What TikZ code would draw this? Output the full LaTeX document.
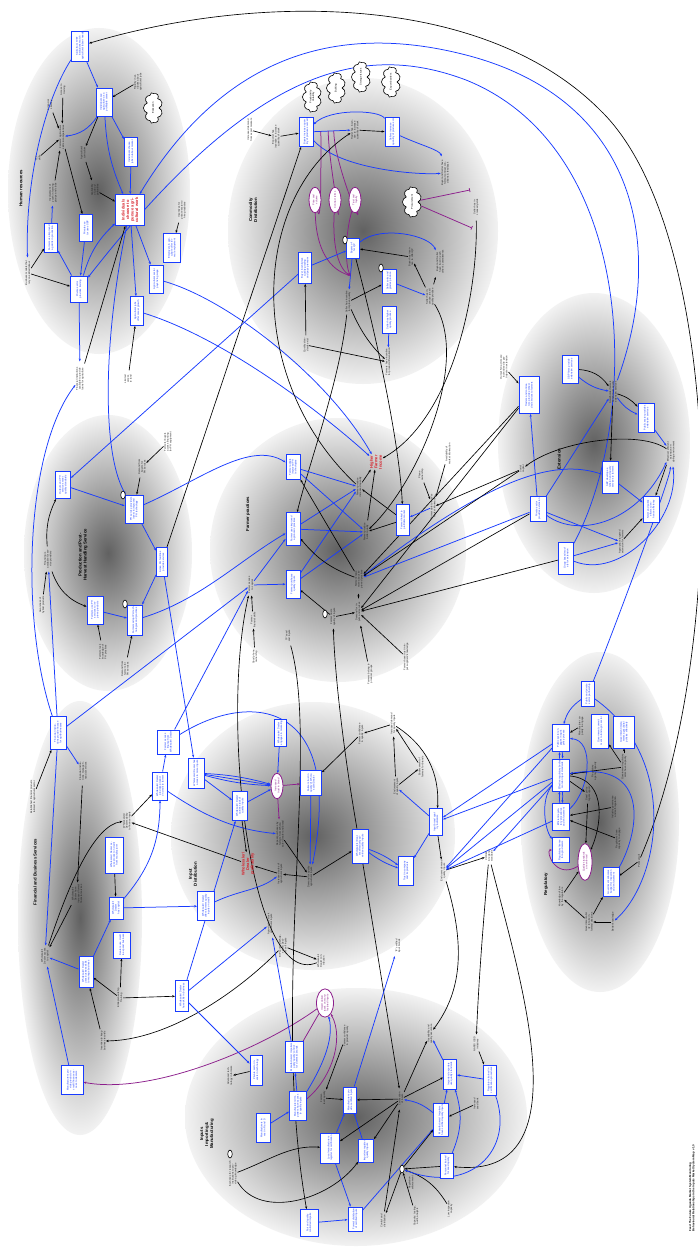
\documentclass[tikz,border=0pt]{standalone}
\usepackage{fontspec}
\setmainfont{Liberation Sans}
\usetikzlibrary{arrows.meta,shapes.geometric,shapes.symbols}
\definecolor{bblue}{RGB}{25,60,255}
\definecolor{bred}{RGB}{215,30,40}
\definecolor{ppurple}{RGB}{140,30,140}
\newcommand\tfnt{\fontsize{2.5}{2.8}\selectfont}
\newcommand\redfnt{\fontsize{4}{4.5}\selectfont\bfseries}
\newcommand\ttlfnt{\fontsize{4.3}{5}\selectfont\bfseries}
\pgfdeclarelayer{shd}\pgfdeclarelayer{edg}\pgfsetlayers{shd,edg,main}
\begin{document}
\begin{tikzpicture}[x=1pt,y=-1pt,>={Stealth[length=2.8pt,width=2.2pt]},
 bx/.style 2 args={draw=bblue,line width=0.95pt,fill=white,text=bblue,rotate=90,align=center,font=\tfnt,text width=#1pt,minimum height=#2pt,inner xsep=1pt,inner ysep=0.6pt},
 tx/.style={rotate=90,align=center,font=\tfnt,text=black!85,inner sep=0.4pt,text width=#1pt},
 tx/.default=24,
 rtx/.style={rotate=90,align=center,font=\redfnt,text=bred,inner sep=0.5pt},
 ttl/.style={rotate=90,align=center,font=\ttlfnt},
 cl/.style={cloud,cloud puffs=9,aspect=2.4,draw,line width=0.6pt,fill=white,rotate=90,font=\tfnt,inner sep=0.3pt,minimum width=27pt,minimum height=11pt,text width=20pt,align=center},
 pov/.style={ellipse,draw=ppurple,line width=0.8pt,fill=white,text=ppurple,rotate=90,font=\tfnt,inner sep=0pt,minimum width=25pt,minimum height=12pt,text width=18pt,align=center},
 sov/.style={ellipse,draw,line width=0.6pt,fill=white,rotate=90,minimum width=8pt,minimum height=4.5pt,inner sep=0pt},
 bl/.style={draw=bblue,line width=0.75pt,->},
 bk/.style={draw=black,line width=0.65pt,->},
 pu/.style={draw=ppurple,line width=0.75pt,->},
 sh/.style={inner color=black!62,outer color=black!5}]
\useasboundingbox (0,0) rectangle (698,1247);
\begin{pgfonlayer}{shd}
\fill[white] (0,0) rectangle (698,1247);
\shade[sh] (99,191) ellipse [x radius=91pt,y radius=163pt];
\shade[sh] (363,231) ellipse [x radius=135pt,y radius=153pt];
\shade[sh] (108,553) ellipse [x radius=84pt,y radius=138pt];
\shade[sh] (338,550) ellipse [x radius=128pt,y radius=132pt];
\shade[sh] (594,443) ellipse [x radius=96pt,y radius=150pt];
\shade[sh] (80,918) ellipse [x radius=62pt,y radius=217pt];
\shade[sh] (313,836) ellipse [x radius=142pt,y radius=134pt];
\shade[sh] (600,822) ellipse [x radius=79pt,y radius=170pt];
\shade[sh] (356,1117) ellipse [x radius=171pt,y radius=129pt];
\end{pgfonlayer}

% ---------------- Human resources
\node[ttl] at (21,188) {Human resources};
\node[bx={28}{17}] (hrA) at (80,46) {Skills from TVET institutions match agricultural labour needs};
\node[bx={26}{16}] (hrB) at (104,102) {Individuals see agriculture as a profitable career};
\node[bx={27}{13}] (hrC) at (131,152) {Individuals choose jobs in labour market};
\node[bx={29}{29},text=bred,font=\redfnt] (hrRed) at (130,210) {Individuals choose to pursue agricultural work};
\node[bx={25}{13}] (hrD) at (86,228) {Private sector uses SBP};
\node[bx={27}{13}] (hrE) at (51,238) {Farmers use improved ag skills in production};
\node[bx={24}{17}] (hrF) at (79,289) {Private sector provides training};
\node[bx={26}{14}] (hrG) at (156,279) {Agricultural sector pays living wage};
\node[bx={27}{17}] (hrH) at (172,248) {Employers in agriculture offer formal employment};
\node[bx={27}{13}] (hrI) at (137,311) {Agricultural jobs offer career growth};
\node[tx=22] (hrT1) at (138,82) {Rigidity in attitudes about agricultural jobs};
\node[cl] (hrCl) at (153,108) {Education};
\node[tx=14] (hrT2) at (50,105) {Financial Literacy};
\node[tx=14] (hrT3) at (63,90) {Access to training};
\node[tx=26] (hrT4) at (62,137) {Farmers' agricultural skills \& competencies};
\node[tx=8] (hrT5) at (38,158) {ICT skills};
\node[tx=24] (hrT6) at (53,193) {Involvement of youth in farming groups and clubs};
\node[tx=20] (hrT7) at (83,153) {Agricultural curriculum};
\node[tx=18] (hrT8) at (95,190) {Availability of job opportunities};
\node[tx=24] (hrT9) at (182,210) {Incentives for private sector to hire graduates};
\node[tx=30] (hrT10) at (28,273) {Business models that rely on skilled labour};
\node[tx=34] (hrT11) at (80,379) {Financial institutions available to provide loans for agriculture};
\node[tx=16] (hrT12) at (128,379) {Limited access to land};

% ---------------- Production
\node[ttl] at (83,555) {Production and Post-\\Harvest Handling Service};
\node[bx={25}{15}] (pA) at (63,485) {Outputs and PH services meet quality standards};
\node[bx={26}{18}] (pB) at (134,509) {PH service providers invest in improved PH technology};
\node[bx={27}{11}] (pC) at (162,562) {Active PH facilities provide services};
\node[bx={26}{16}] (pD) at (95,610) {Farmers use PH services to improve products};
\node[bx={28}{15}] (pE) at (135,620) {Farmers adopt PH technologies and practices};
\node[sov] at (123,495) {};
\node[sov] at (125,604) {};
\node[tx=26] (pT1) at (168,442) {Farmers/ buyers access financing for PH equipment};
\node[tx=20] (pT2) at (142,467) {Demand from buyers for PH services};
\node[tx=24] (pT3) at (48,559) {Financing is available for service providers};
\node[tx=20] (pT4) at (42,605) {Awareness of hybrid products};
\node[tx=22] (pT5) at (103,652) {Farmers lack knowledge of PH practices};
\node[tx=22] (pT6) at (125,669) {Demand from farmers for PH services};

% ---------------- Financial and business
\node[ttl] at (35,872) {Financial and Business Services};
\node[bx={31}{16}] (fA) at (58,733) {Financial institutions provide finance for agribusinesses};
\node[bx={22}{22}] (fB) at (168,742) {Farmer access finance from Wholesaler/ Dealer};
\node[bx={26}{15}] (fC) at (160,786) {Wholesaler/ Dealer provides product on credit to farmer};
\node[bx={34}{18}] (fD) at (114,855) {Wholesaler/ Dealer access product on credit from manufacturer};
\node[bx={20}{14}] (fE) at (116,908) {Wholesaler/ Dealer has capital};
\node[bx={24}{17}] (fF) at (122,945) {Dealers use credit to expand business};
\node[bx={29}{14}] (fG) at (86,972) {Wholesaler/ Dealer uses business skills to manage business};
\node[bx={29}{13}] (fH) at (182,996) {Wholesaler/ Dealer have skills in business};
\node[bx={27}{22}] (fI) at (72,1080) {Manufacturers provide product on credit/ finance access to dealers};
\node[tx=36] (fT1) at (33,797) {Established financial products tailored to agricultural sector};
\node[tx=28] (fT2) at (83,771) {Financial institutions manage financial services};
\node[tx=22] (fT3) at (127,821) {Wholesalers/ Dealers ability to finance inputs};
\node[tx=22] (fT4) at (77,894) {Wholesaler/ Dealer have increased formal financial services};
\node[tx=20] (fT5) at (45,956) {Wholesaler/ Dealer access to capital};
\node[tx=20] (fT6) at (120,998) {Entrepreneurship Training};
\node[tx=24] (fT7) at (103,1041) {Incentive to keep business records};

% ---------------- Input distribution
\node[ttl] at (193,874) {Input\\Distribution};
\node[bx={28}{16}] (iA) at (196,773) {Wholesaler/ Dealer has access to more inputs};
\node[bx={27}{17}] (iB) at (206,906) {Wholesaler/ Dealer offers farmers quality inputs on credit};
\node[bx={27}{15}] (iC) at (240,806) {Wholesaler/ Dealer carries stock of quality inputs};
\node[bx={25}{12}] (iD) at (280,733) {Wholesaler/ Dealer engages in marketing};
\node[pov] (iP) at (277,786) {Increased trust in brand};
\node[bx={23}{21}] (iE) at (311,783) {Farmers trust in quality of Wholesaler/ Dealer};
\node[bx={32}{16}] (iF) at (360,846) {Wholesalers/ Dealers effectively advertise quality inputs};
\node[bx={25}{13}] (iG) at (436,822) {Input brand quality indicators};
\node[bx={27}{15}] (iH) at (406,871) {Trust in company and its products};
\node[tx=28] (iT1) at (280,834) {Repeat purchases by farmers from Wholesaler/ Dealer and brand};
\node[rtx] (iRed) at (248,864) {Wholesaler/\\Dealer\\profitability};
\node[tx=22] (iT3) at (280,874) {Increased sales of agricultural inputs};
\node[tx=24] (iT4) at (310,877) {Demand for quality agricultural inputs};
\node[tx=24] (iT5) at (361,734) {Farmer confidence in quality inputs};
\node[tx=24] (iT6) at (393,724) {Increased demand for quality inputs};
\node[tx=24] (iT7) at (421,767) {Endorsement of farmers for brands};
\node[tx=20] (iT8) at (396,787) {Endorsement of quality inputs};
\node[tx=22] (iT9) at (443,871) {End users demand quality inputs};
\node[tx=26] (iT10) at (270,924) {Agro-dealers stock agricultural inputs};

% ---------------- Regulatory
\node[ttl] at (546,884) {Regulatory};
\node[bx={23}{13}] (rA) at (588,694) {Public and private sector partnership};
\node[bx={25}{17}] (rB) at (561,738) {Public sector engages in agric policy process};
\node[bx={32}{17}] (rC) at (600,731) {Government commitment to fund agric sector};
\node[bx={30}{21}] (rD) at (624,732) {Government implements agricultural policies effectively};
\node[bx={30}{17}] (rE) at (561,775) {Effective regulatory bodies monitor input standards};
\node[bx={25}{17}] (rF) at (561,817) {Efficient regulatory procedures and enforcement};
\node[bx={23}{17}] (rG) at (561,850) {Regulatory licence for agro dealers};
\node[pov,minimum width=34pt,minimum height=14pt,text width=26pt] (rP) at (585,862) {Quality standards are enforced};
\node[bx={27}{16}] (rH) at (611,882) {Government allocates budget for inspection and enforcement};
\node[tx=26] (rT1) at (581,726) {Manufacturer capacity to engage};
\node[tx=20] (rT2) at (594,771) {Regulatory agency capacity};
\node[tx=26] (rT3) at (624,767) {Government regulatory arms have capacity};
\node[tx=18] (rT4) at (588,794) {Seed policy legal support};
\node[tx=26] (rT5) at (614,807) {Industry governance and self-regulation};
\node[tx=26] (rT6) at (618,839) {Regulators have capacity to engage};
\node[tx=16] (rPol) at (639,861) {Political will};
\node[tx=24] (rT7) at (561,897) {Knowledge of law by the regulators};
\node[tx=26] (rT8) at (589,922) {Government ability to take informed decisions};
\node[tx=24] (rT9) at (613,922) {Better knowledge};
\node[tx=16] (rCod) at (489,856) {CODEX \& regional standards};

% ---------------- Extension
\node[ttl] at (559,459) {Extension};
\node[bx={35}{20}] (eA) at (529,395) {Traders and contractors provide embedded services to farmers};
\node[bx={26}{16}] (eB) at (570,369) {SBP firms provide extension services};
\node[bx={27}{16}] (eC) at (646,418) {Public sector provides extension services};
\node[bx={30}{16}] (eD) at (610,477) {SBP develop extension and quality services to farmers};
\node[bx={23}{16}] (eE) at (538,509) {Private sector provides extension};
\node[bx={24}{16}] (eF) at (651,509) {NGO and public efforts to enhance efficiency};
\node[bx={30}{15}] (eG) at (566,558) {Group based models for extension};
\node[tx=30] (eT1) at (504,367) {Output NC actors are incentivised to participate in extension};
\node[tx=26] (eT2) at (613,392) {Smallholder farmers benefit from quality extension services};
\node[tx=28] (eT3) at (671,452) {Effective/ efficient extension enabling environment};
\node[tx=14] (eT4) at (522,469) {Social capital};
\node[tx=24] (eT5) at (621,542) {Appropriate targeted extension for farmers};

% ---------------- Commodity distribution
\node[ttl] at (253,210) {Commodity\\Distribution};
\node[bx={27}{14}] (cA) at (306,132) {Buyers increase quantity of produce sourced};
\node[bx={27}{14}] (cB) at (392,132) {Sellers increase quantity of produce sold};
\node[bx={18}{13}] (cC) at (353,248) {Buyers offer QP};
\node[bx={29}{13}] (cD) at (305,268) {Buyer incentivises quality grading and pays premium};
\node[bx={22}{14}] (cE) at (389,281) {Seller sorts and grades produce};
\node[bx={25}{14}] (cF) at (389,320) {Seller has higher quality produce};
\node[cl] at (312,97) {Productivity Volatility};
\node[cl] at (336,88) {Bulking};
\node[cl] at (361,77) {Storage issues};
\node[cl] at (391,82) {Export barriers};
\node[cl] (cPro) at (412,202) {Procurement};
\node[pov] (cP1) at (315,200) {Price and volume};
\node[pov] (cP2) at (335,200) {Contract terms};
\node[pov] (cP3) at (355,200) {Trust and loyalty};
\node[sov] at (345,240) {};
\node[sov] at (381,268) {};
\node[tx=24] (cT1) at (250,130) {Increased demand from export markets};
\node[tx=24] (cT2) at (276,137) {Exporter has incentive to increase quantity of stock};
\node[tx=22] (cT3) at (355,130) {Trader has incentive to increase quantity of stock};
\node[tx=32] (cT4) at (445,173) {Buyer and Seller have formal contract conditions \& feedback};
\node[tx=26] (cT5) at (476,207) {Seller has increased yields};
\node[tx=24] (cT6) at (411,257) {Buyer has incentive to offer QP};
\node[tx=30] (cT7) at (440,262) {Buyer and Seller have trust in each other's commitments};
\node[tx=24] (cT8) at (430,297) {Seller has incentive to sell quality produce};
\node[tx=24] (cT9) at (348,302) {Seller has incentive to improve quality};
\node[tx=18] (cT10) at (306,345) {Quality standards exist};
\node[tx=28] (cT11) at (388,362) {Farmers have incentive for product differentiation};

% ---------------- Farmer practices
\node[ttl] at (248,514) {Farmer practices};
\node[rtx] (fpInc) at (376,462) {Higher\\Farmer\\Income};
\node[bx={23}{14}] (fp1) at (293,467) {Farmer adopts improved PH technologies};
\node[bx={31}{14}] (fp2) at (293,529) {Farmer uses improved agronomic practices};
\node[bx={26}{14}] (fp3) at (293,584) {Farmer purchases quality inputs};
\node[bx={29}{13}] (fp4) at (403,520) {Farmer linked to profitable market};
\node[sov] at (325,614) {};
\node[tx=22] (fpQn) at (359,487) {Farmer produce increased quantity};
\node[tx=22] (fpQl) at (366,532) {Farmer produce better quality};
\node[tx=14] (fpT1) at (421,475) {Phone ownership};
\node[tx=22] (fpT2) at (448,454) {Availability of market information};
\node[tx=26] (fpT3) at (433,507) {Farmer able to access market information};
\node[tx=28] (fpKn) at (359,579) {Farmer knows more about improved practices};
\node[tx=20] (fpCap) at (251,585) {Farmer access to capital};
\node[tx=26] (fpDem) at (358,612) {Demand for inputs and services};
\node[tx=22] (fpQi) at (333,617) {Farmer trusts quality of inputs};
\node[tx=16] (fpSk) at (253,620) {Farmer financial skills};
\node[tx=18] (fpPh) at (255,657) {Good phone ownership};
\node[tx=18] (fpIP) at (288,636) {'IP' seed and inputs};
\node[tx=24] (fpGr) at (370,674) {Farmers belong to producer groups};
\node[tx=28] (fpTr) at (406,657) {Farmer have trust in input suppliers' knowledge};

% ---------------- Inputs importing & manufacturing
\node[ttl] at (207,1134) {Inputs\\Importing \&\\Manufacturing};
\node[bx={29}{18}] (mA) at (294,1057) {Manufacturers/ Importers apply quality control for domestic brands};
\node[bx={28}{12}] (mB) at (256,1070) {Private sector invests in technology};
\node[bx={27}{17}] (mC) at (298,1106) {Manufacturers/ Importers have access to quality inputs};
\node[bx={27}{14}] (mD) at (263,1128) {Manufacturers invest in R and D};
\node[bx={24}{13}] (mE) at (350,1100) {Manufacturers provide certified inputs};
\node[bx={28}{13}] (mF) at (450,1074) {Importers/ exporters use quality standards};
\node[bx={31}{15}] (mG) at (441,1120) {Manufacturers/ Importers have certified quality inputs};
\node[bx={28}{19}] (mH) at (330,1148) {Local manufacturers register for certification};
\node[bx={21}{15}] (mI) at (366,1151) {Importers register quality inputs};
\node[bx={23}{13}] (mJ) at (447,1166) {Personnel trained for seed quality};
\node[bx={25}{18}] (mK) at (309,1223) {Fair and quality controlled imports};
\node[bx={22}{14}] (mL) at (355,1219) {Formal distribution of certified inputs};
\node[bx={28}{13}] (mM) at (490,1080) {Regulators trained in certification procedures};
\node[pov,minimum width=26pt,minimum height=17pt,text width=20pt] (mP) at (325,1003) {Import duties/ taxes on manufactured inputs};
\node[sov] (mO) at (402,1169) {};
\node[sov] at (230,1154) {};
\node[tx=28] (mT1) at (283,946) {BIP certified Wholesalers/ Dealers sell inputs};
\node[tx=20] (mT2) at (321,961) {Wholesaler/ Dealer contribution};
\node[tx=22] (mT3) at (398,946) {'IP' certified input brands};
\node[tx=26] (mT4) at (346,1036) {Farmer confidence in product quality};
\node[tx=24] (mT5) at (430,1034) {Traceability and quality assurance};
\node[tx=18] (mT6) at (323,1098) {Farmer-level quality};
\node[tx=20] (mT7) at (401,1099) {Certification of inputs};
\node[tx=20] (mT8) at (411,1183) {Regulation enforcement};
\node[tx=30] (mT9) at (233,1174) {Incentives for research institutions to provide ag knowledge};
\node[tx=34] (mT10) at (230,1076) {Advanced technology in formats};
\node[tx=18] (mT11) at (383,1221) {Control and distribution};
\node[tx=22] (mT12) at (416,1216) {Capacity: testing, audit, analysis};
\node[tx=18] (mT13) at (450,1209) {Low inspection capacity};
\node[tx=18] (mT14) at (476,1044) {NARO/ ISSD initiatives};
\node[tx=16] (mT15) at (476,1104) {Increased seed bank};

\node[rotate=90,align=left,font=\fontsize{2.8}{3.2}\selectfont\bfseries] at (692,1188) {Feed The Future Uganda Market System Monitoring\\Behavioural Relationships in the Inputs Market System Map v 1.0};

% ================= EDGES
\begin{pgfonlayer}{edg}
% long outer curves
\draw[bk,<-] (hrA) .. controls (250,-5) and (480,-10) .. (600,110) .. controls (725,230) and (730,650) .. (rPol);
\draw[bl] (eT2) .. controls (665,250) and (640,100) .. (466,55) .. controls (350,25) and (230,45) .. (hrRed);
\draw[bl] (eG) .. controls (640,420) and (640,150) .. (466,80) .. controls (360,40) and (250,70) .. (hrF);
% HR
\draw[bl] (hrA) -- (hrB);
\draw[bk] (hrT1) -- (hrB);
\draw[bl] (hrB) to[bend left=25] (hrT4);
\draw[bl] (hrB) -- (hrC);
\draw[bl] (hrB) to[bend right=10] (hrRed);
\draw[bk] (hrB) -- (hrT7);
\draw[bk] (hrT7) -- (hrT8);
\draw[bk] (hrT8) -- (hrRed);
\draw[bl] (hrC) -- (hrRed);
\draw[bk] (hrT2) -- (hrT4);
\draw[bk] (hrT3) -- (hrT4);
\draw[bk] (hrT5) -- (hrT4);
\draw[bk] (hrT6) -- (hrT4);
\draw[bk] (hrT4) -- (hrD);
\draw[bl] (hrF) -- (hrE);
\draw[bl] (hrE) -- (hrT6);
\draw[bl] (hrD) -- (hrF);
\draw[bk] (hrT10) -- (hrE);
\draw[bk] (hrT10) -- (hrF);
\draw[bl] (hrA) .. controls (45,100) and (25,180) .. (hrT10);
\draw[bl] (hrF) to[bend left=15] (hrRed);
\draw[bl] (hrRed) -- (hrG);
\draw[bl] (hrRed) -- (hrI);
\draw[bk] (hrT9) -- (hrH);
\draw[bk] (hrT11) -- (hrRed);
\draw[bl] (hrF) -- (hrT11);
\draw[bk] (hrT12) -- (hrI);
\draw[bl] (hrRed) .. controls (105,330) and (100,450) .. (pB);
\draw[bl] (hrG) .. controls (230,300) and (330,380) .. (fpInc);
\draw[bl] (hrI) .. controls (230,340) and (330,420) .. (fpInc);
% Production
\draw[bk] (pT3) to[bend left=15] (pA);
\draw[bk] (pT3) to[bend right=25] (pD);
\draw[bk] (pT4) -- (pT3);
\draw[bl] (pD) -- (pE);
\draw[bl] (pA) -- (pB);
\draw[bl] (pB) -- (pC);
\draw[bl] (pC) -- (pE);
\draw[bk] (pT2) -- (pB);
\draw[bk] (pT1) -- (pT2);
\draw[bk] (pT5) -- (pD);
\draw[bk] (pT6) -- (pE);
\draw[bk] (pC) -- (cA);
\draw[bl] (pB) .. controls (200,480) and (250,440) .. (fp1);
\draw[bl] (pE) .. controls (200,600) and (240,560) .. (fp2);
\draw[bl] (cD) -- (pA);
\draw[bl] (fA) -- (pT3);
\draw[bl] (fA) .. controls (20,620) and (25,450) .. (hrT11);
\draw[bl] (pC) -- (iA);
% Financial
\draw[bk] (fT1) -- (fA);
\draw[bl] (fA) -- (fT2);
\draw[bk] (fT2) -- (fT4);
\draw[bl] (fA) -- (fT5);
\draw[bk] (fT4) -- (fT5);
\draw[bk] (fT3) -- (fC);
\draw[bl] (fC) -- (fB);
\draw[bl] (fC) .. controls (210,820) and (240,830) .. (iT1);
\draw[bl] (fB) .. controls (250,690) and (345,700) .. (iT4);
\draw[bk] (fT5) .. controls (70,880) and (95,825) .. (fT3);
\draw[bk] (iRed) -- (fT3);
\draw[bk] (fD) -- (fE);
\draw[bl] (fE) -- (iB);
\draw[bl] (fE) to[bend right=20] (fC);
\draw[bk] (fT6) -- (fF);
\draw[bk] (fT6) -- (fH);
\draw[bk] (fT6) -- (fG);
\draw[bl] (fG) -- (fT5);
\draw[bl] (fG) -- (fE);
\draw[bk] (fT7) -- (fG);
\draw[bk] (mT1) .. controls (240,990) and (170,1040) .. (fT7);
\draw[bl] (fI) -- (fT5);
\draw[pu] (mP) .. controls (260,1050) and (150,1095) .. (fI);
\draw[bl] (fH) -- (iC);
\draw[bl] (fH) -- (iT10);
\draw[bl] (fH) -- (mB);
\draw[bl] (fA) -- (fpCap);
\draw[bl] (fB) -- (fpCap);
% Input distribution
\draw[bl] (iA) to[bend left=6] (iP);
\draw[bl] (iA) -- (iP);
\draw[bl] (iA) to[bend right=6] (iP);
\draw[bl] (iA) -- (iC);
\draw[bl] (iD) -- (iP);
\draw[pu] (iP) -- (iE);
\draw[pu] (iP) -- (iT1);
\draw[bl] (iC) -- (iP);
\draw[bk] (iC) -- (iRed);
\draw[bk] (iT1) -- (iT4);
\draw[bk] (iT3) -- (iRed);
\draw[bk] (iT4) -- (iT3);
\draw[bk] (iT4) -- (iF);
\draw[bl] (iE) -- (iT4);
\draw[bk] (iT5) -- (iE);
\draw[bk] (iT6) -- (iT5);
\draw[bk] (iT8) -- (iT6);
\draw[bk] (iT8) -- (iT7);
\draw[bk] (iT7) -- (iT6);
\draw[bk] (iT6) to[bend left=30] (iG);
\draw[bl] (iG) -- (iT8);
\draw[bl] (iG) -- (iH);
\draw[bl] (iF) to[bend left=8] (iH);
\draw[bl] (iF) to[bend right=8] (iH);
\draw[bl] (iB) .. controls (240,890) and (260,890) .. (iT3);
\draw[bk] (iF) .. controls (345,760) and (335,680) .. (fpQi);
\draw[bk] (iF) -- (mT7);
\draw[bk] (iG) -- (iT9);
\draw[bk] (iT9) -- (rCod);
\draw[bk] (iT9) .. controls (470,960) and (455,1000) .. (mT5);
\draw[bk] (rCod) .. controls (480,960) and (478,1000) .. (mT14);
\draw[bk] (fpIP) .. controls (320,750) and (270,1000) .. (mK);
\draw[bk] (mT2) .. controls (250,990) and (220,720) .. (fpCap);
% Regulatory
\draw[bl] (rA) .. controls (610,640) and (670,480) .. (eT3);
\draw[bl] (rA) to[bend right=20] (rB);
\draw[bl] (rA) .. controls (680,760) and (660,880) .. (rT9);
\draw[bk] (rT1) -- (rB);
\draw[bl] (rB) to[bend left=5] (rE);
\draw[bl] (rE) to[bend left=5] (rB);
\draw[bl] (rE) to[bend left=5] (rF);
\draw[bl] (rF) to[bend left=5] (rE);
\draw[bl] (rF) .. controls (590,790) and (595,740) .. (rB);
\draw[bl] (rE) .. controls (540,800) and (545,830) .. (rG);
\draw[bl] (rB) -- (iT9);
\draw[bl] (rE) -- (iT9);
\draw[bl] (rE) -- (iG);
\draw[bl] (rF) -- (iT9);
\draw[bl] (rE) -- (rCod);
\draw[bl] (rB) -- (iG);
\draw[bk] (rT3) -- (rC);
\draw[bk] (rT3) -- (rD);
\draw[bk] (rT3) -- (rE);
\draw[bk] (rT2) -- (rE);
\draw[bk] (rE) -- (rT4);
\draw[bk] (rT4) -- (rP);
\draw[bk] (rE) .. controls (610,780) and (600,830) .. (rP);
\draw[bk] (rT5) -- (rF);
\draw[bk] (rT6) -- (rF);
\draw[pu] (rP) .. controls (555,880) and (545,850) .. (rG);
\draw[bl] (rH) .. controls (640,830) and (650,760) .. (rE);
\draw[bk] (rPol) -- (rH);
\draw[bk] (rT7) -- (rP);
\draw[bk] (rT8) -- (rT7);
\draw[bk] (rT8) -- (rH);
\draw[bk] (rT9) -- (rT8);
\draw[bk] (rCod) .. controls (520,980) and (585,1180) .. (mJ);
% Extension
\draw[bk] (eT1) -- (eA);
\draw[bk] (eA) -- (fpKn);
\draw[bk] (eA) -- (fpDem);
\draw[bl] (eB) to[bend right=15] (eT2);
\draw[bk] (eB) to[bend left=25] (eT2);
\draw[bk] (eT2) to[bend left=15] (eC);
\draw[bl] (eT2) to[bend right=15] (eC);
\draw[bk] (eT2) -- (eD);
\draw[bl] (eE) -- (eT2);
\draw[bl] (eE) -- (fpKn);
\draw[bl] (eE) -- (eA);
\draw[bl] (eE) .. controls (580,540) and (640,520) .. (eT3);
\draw[bl] (eE) -- (eT5);
\draw[bl] (eD) -- (eF);
\draw[bl] (eD) .. controls (560,460) and (500,470) .. (fpKn);
\draw[bk] (eT3) -- (eF);
\draw[bk] (eT3) .. controls (640,430) and (560,440) .. (eT4);
\draw[bl] (eC) -- (eT3);
\draw[bl] (eG) -- (eT5);
\draw[bl] (eG) .. controls (620,580) and (680,520) .. (eT3);
\draw[bk] (eT5) -- (eF);
\draw[bk] (eG) -- (fpDem);
\draw[bk] (eE) -- (fpDem);
\draw[bk] (eT4) -- (fpKn);
\draw[bk] (eT4) -- (fpT3);
% Commodity
\draw[bk] (cT1) -- (cT2);
\draw[bk] (cT2) -- (cA);
\draw[bl] (cA) -- coordinate[pos=0.2] (pq1) coordinate[pos=0.4] (pq2) coordinate[pos=0.55] (pq3) (cT3);
\draw[bk] (cT3) -- (cB);
\draw[bl] (cB) .. controls (420,145) and (440,150) .. (cT4);
\draw[bl] (cA) .. controls (340,170) and (420,175) .. (cT4);
\draw[bl] (cB) .. controls (380,110) and (330,108) .. (cA);
\draw[bl] (cC) -- coordinate[pos=0.55] (pend) (cT9);
\draw[ppurple,line width=0.75pt] (pq1) to[out=-90,in=-90] (cP1);
\draw[ppurple,line width=0.75pt] (pq2) to[out=-90,in=-90] (cP2);
\draw[ppurple,line width=0.75pt] (pq3) to[out=-90,in=-90] (cP3);
\draw[pu] (cP1) .. controls (316,250) and (330,270) .. (pend);
\draw[pu] (cP2) .. controls (332,250) and (340,270) .. (pend);
\draw[pu] (cP3) .. controls (345,235) and (345,265) .. (pend);
\draw[ppurple,line width=0.75pt,-{Bar[width=4pt]}] (cPro) -- (470,190);
\draw[ppurple,line width=0.75pt,-{Bar[width=4pt]}] (cPro) -- (472,228);
\draw[bk] (cT5) .. controls (478,300) and (450,420) .. (fpInc);
\draw[bl] (cD) -- (cC);
\draw[bk] (cT6) -- (cC);
\draw[bl] (cC) .. controls (380,225) and (430,235) .. (cT7);
\draw[bk] (cT8) -- (cT6);
\draw[bk] (cT8) -- (cT7);
\draw[bl] (cE) -- (cT8);
\draw[bk] (cT9) -- (cE);
\draw[bl] (cF) -- (cT11);
\draw[bk] (cT10) -- (cD);
\draw[bk] (cT10) -- (cT11);
\draw[bk] (cT9) .. controls (360,330) and (370,345) .. (cT11);
\draw[bk] (fpQn) .. controls (245,380) and (250,200) .. (cT3);
\draw[bk] (cT9) .. controls (340,380) and (310,460) .. (fp2);
\draw[bk] (cC) .. controls (380,350) and (400,450) .. (fp4);
\draw[bk] (cT8) .. controls (470,360) and (420,480) .. (fpQl);
% Farmer practices
\draw[bk] (fpQn) -- (fpInc);
\draw[bk] (fpQl) -- (fpInc);
\draw[bl] (fp1) -- (fpQn);
\draw[bl] (fp1) -- (fpQl);
\draw[bl] (fp2) -- (fpQn);
\draw[bl] (fp2) -- (fpQl);
\draw[bl] (fp3) -- (fpQn);
\draw[bl] (fp3) -- (fpQl);
\draw[bk] (fp4) -- (fpQn);
\draw[bk] (fp4) -- (fpQl);
\draw[bl] (fpT3) -- (fp4);
\draw[bk] (fpT1) -- (fpT3);
\draw[bk] (fpT2) -- (fpT3);
\draw[bk] (fpKn) to[bend left=15] (fp2);
\draw[bk] (fpKn) -- (fp1);
\draw[bl] (fpCap) -- (fp3);
\draw[bl] (fpCap) -- (fp2);
\draw[bk] (fpQi) -- (fp3);
\draw[bk] (fpQi) -- (fpDem);
\draw[bk] (fpDem) -- (fpKn);
\draw[bk] (fpPh) -- (fpSk);
\draw[bk] (fpSk) -- (fpCap);
\draw[bk] (fpGr) -- (fpDem);
\draw[bk] (fpTr) -- (fpDem);
% Inputs importing
\draw[ppurple,line width=0.75pt] (mA) -- (mP);
\draw[bl] (mC) -- (mA);
\draw[bl] (mC) .. controls (320,1070) and (335,1040) .. (mP);
\draw[pu] (mC) .. controls (330,1080) and (345,1040) .. (mP);
\draw[bl] (mD) -- (mC);
\draw[bk] (mB) -- (mT10);
\draw[bl] (mA) -- (iT10);
\draw[bk] (mT4) -- (mT6);
\draw[bk] (mT7) -- (mE);
\draw[bl] (mE) -- (mT3);
\draw[bl] (mH) -- (mE);
\draw[bl] (mI) -- (mE);
\draw[bk] (mT6) -- (mE);
\draw[bl] (mH) -- (mL);
\draw[bl] (mL) -- (mG);
\draw[bl] (mK) -- (mL);
\draw[bk] (mT7) -- (mI);
\draw[bk] (mT7) -- (mF);
\draw[bk] (mT7) -- (mT5);
\draw[bk] (mT7) -- (mH);
\draw[bl] (mG) to[bend right=15] (mT7);
\draw[bl] (mG) -- (mF);
\draw[bl] (mJ) to[bend right=20] (mF);
\draw[bl] (mF) -- (mT5);
\draw[bk] (mO) -- (mG);
\draw[bk] (mJ) -- (mO);
\draw[bk] (mT12) -- (mO);
\draw[bk] (mT13) to[bend right=20] (mO);
\draw[bk] (mO) -- (mT11);
\draw[bk] (mT11) -- (mT7);
\draw[bk] (mT9) .. controls (270,1160) and (290,1145) .. (mH);
\draw[bk] (mT9) .. controls (260,1220) and (330,1200) .. (mI);
\draw[bk] (mT14) -- (mM);
\draw[bl] (mM) -- (mF);
\draw[bk] (mT15) -- (mG);
\draw[bl] (mM) .. controls (515,1150) and (470,1195) .. (mO);
\draw[bk] (mT1) -- (mT2);
\end{pgfonlayer}
\end{tikzpicture}
\end{document}
